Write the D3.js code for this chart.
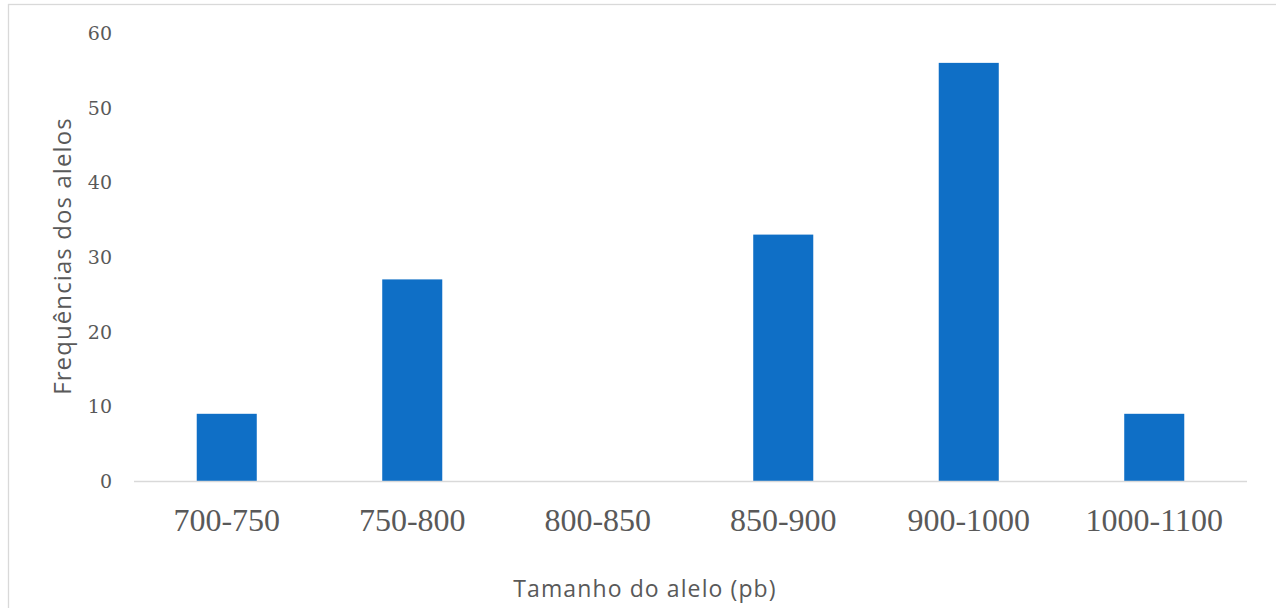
<!DOCTYPE html>
<html><head><meta charset="utf-8">
<script src="https://cdn.jsdelivr.net/npm/d3@7"></script>
<style>
html,body{margin:0;padding:0;background:#fff;}
svg{display:block;}
</style></head>
<body>
<svg id="chart" width="1276" height="608"></svg>
<script>
const categories = ["700-750","750-800","800-850","850-900","900-1000","1000-1100"];
const values = [9, 27, 0, 33, 56, 9];
const yTicks = [0,10,20,30,40,50,60];
const xTitle = "Tamanho do alelo (pb)";
const yTitle = "Frequências dos alelos";

const svg = d3.select("#chart");
const plot = {left:134, right:1247, top:33, bottom:481};

// chart area border (cropped at right/bottom)
svg.append("rect").attr("x",8.5).attr("y",4.5).attr("width",1300).attr("height",700)
  .attr("fill","none").attr("stroke","#d9d9d9").attr("stroke-width",1.3);

const x = d3.scaleBand().domain(categories).range([plot.left, plot.right]).padding(0);
const y = d3.scaleLinear().domain([0,60]).range([plot.bottom, plot.top]);
const barW = x.bandwidth()*0.3236;

svg.append("g").selectAll("rect").data(categories).join("rect")
  .attr("x", d => x(d) + x.bandwidth()/2 - barW/2)
  .attr("y", (d,i) => y(values[i]))
  .attr("width", barW)
  .attr("height", (d,i) => y(0) - y(values[i]))
  .attr("fill", "#0F6FC6");

// x axis line
svg.append("line").attr("x1",plot.left).attr("x2",plot.right)
  .attr("y1",y(0)+0.5).attr("y2",y(0)+0.5).attr("stroke","#d9d9d9").attr("stroke-width",1.5);

// y tick labels
svg.append("g").selectAll("text").data(yTicks).join("text")
  .attr("x",112).attr("y",d => y(d)+7)
  .attr("text-anchor","end").attr("fill","#595959")
  .attr("font-family","'DejaVu Serif',serif")
  .attr("font-size",19)
  .text(d => d);

// x tick labels
svg.append("g").selectAll("text").data(categories).join("text")
  .attr("x", d => x(d)+x.bandwidth()/2).attr("y", 531)
  .attr("text-anchor","middle").attr("fill","#595959")
  .attr("font-family","'Liberation Serif','Times New Roman',serif")
  .attr("font-size",32)
  .text(d => d);

// axis titles
svg.append("text").attr("x",645).attr("y",597)
  .attr("text-anchor","middle").attr("fill","#595959")
  .attr("font-family","'Open Sans',sans-serif").attr("font-size",23)
  .attr("letter-spacing",1.1)
  .text(xTitle);

svg.append("text").attr("transform","translate(71,256) rotate(-90)")
  .attr("text-anchor","middle").attr("fill","#595959")
  .attr("font-family","'Open Sans',sans-serif").attr("font-size",24)
  .attr("letter-spacing",1.1)
  .text(yTitle);
</script>
</body></html>
